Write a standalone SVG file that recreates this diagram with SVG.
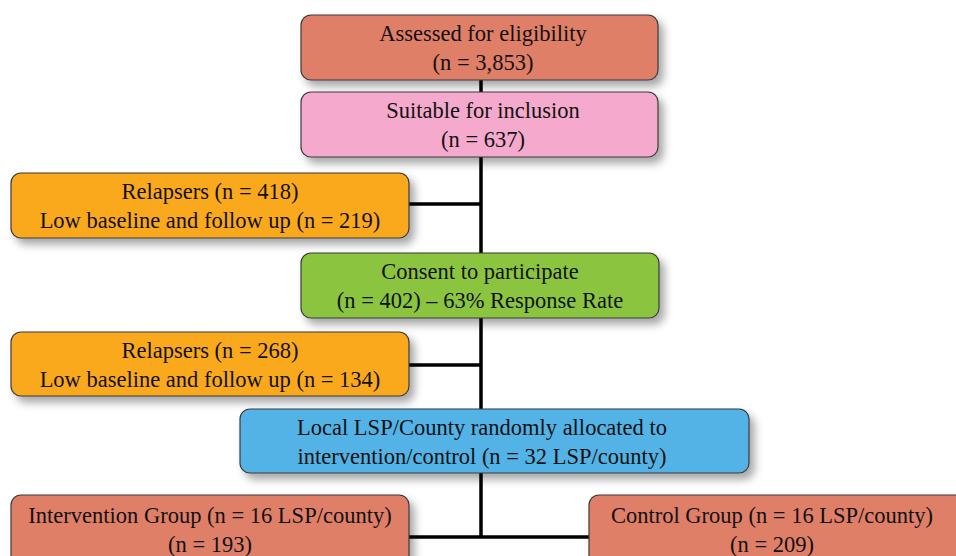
<svg xmlns="http://www.w3.org/2000/svg" width="956" height="556" viewBox="0 0 956 556">
<style>
.box{stroke:#3a3a3a;stroke-width:1.2;filter:url(#sh)}
.t{font-family:"Liberation Serif","Times New Roman",serif;font-size:22.5px;fill:#111;text-anchor:middle}
.c{stroke:#000;stroke-width:3.5;fill:none}
</style>
<defs>
<filter id="sh" x="-10%" y="-20%" width="125%" height="160%">
<feDropShadow dx="5" dy="6" stdDeviation="4" flood-color="#000" flood-opacity="0.35"/>
</filter>
</defs>
<rect width="956" height="556" fill="#fff"/>
<g id="connectors">
<line class="c" x1="481" y1="78" x2="481" y2="537"/>
<line class="c" x1="407" y1="204" x2="481" y2="204"/>
<line class="c" x1="407" y1="365" x2="481" y2="365"/>
<line class="c" x1="407" y1="537" x2="591" y2="537"/>
</g>
<g id="assessed">
<rect class="box" x="301" y="15" width="357" height="65" rx="10" fill="#E07F68"/>
<text class="t" x="483" y="41">Assessed for eligibility</text>
<text class="t" x="483" y="70">(n = 3,853)</text>
</g>
<g id="suitable">
<rect class="box" x="301" y="92" width="357" height="65" rx="10" fill="#F5AACD"/>
<text class="t" x="483" y="118">Suitable for inclusion</text>
<text class="t" x="483" y="147">(n = 637)</text>
</g>
<g id="relapsers1">
<rect class="box" x="11" y="173" width="398" height="65" rx="10" fill="#FAA91D"/>
<text class="t" x="210" y="199">Relapsers (n = 418)</text>
<text class="t" x="210" y="228">Low baseline and follow up (n = 219)</text>
</g>
<g id="consent">
<rect class="box" x="301" y="253" width="358" height="65" rx="10" fill="#8BC541"/>
<text class="t" x="480" y="279">Consent to participate</text>
<text class="t" x="480" y="308">(n = 402) – 63% Response Rate</text>
</g>
<g id="relapsers2">
<rect class="box" x="11" y="332" width="398" height="64" rx="10" fill="#FAA91D"/>
<text class="t" x="210" y="358">Relapsers (n = 268)</text>
<text class="t" x="210" y="387">Low baseline and follow up (n = 134)</text>
</g>
<g id="allocation">
<rect class="box" x="240" y="409" width="509" height="64" rx="10" fill="#52B3E6"/>
<text class="t" x="482" y="435">Local LSP/County randomly allocated to</text>
<text class="t" x="482" y="464">intervention/control (n = 32 LSP/county)</text>
</g>
<g id="intervention">
<rect class="box" x="11" y="495" width="398" height="90" rx="10" fill="#E07F68"/>
<text class="t" x="210" y="523">Intervention Group (n = 16 LSP/county)</text>
<text class="t" x="210" y="552">(n = 193)</text>
</g>
<g id="control">
<rect class="box" x="589" y="495" width="400" height="90" rx="10" fill="#E07F68"/>
<text class="t" x="772" y="523">Control Group (n = 16 LSP/county)</text>
<text class="t" x="772" y="552">(n = 209)</text>
</g>
</svg>
